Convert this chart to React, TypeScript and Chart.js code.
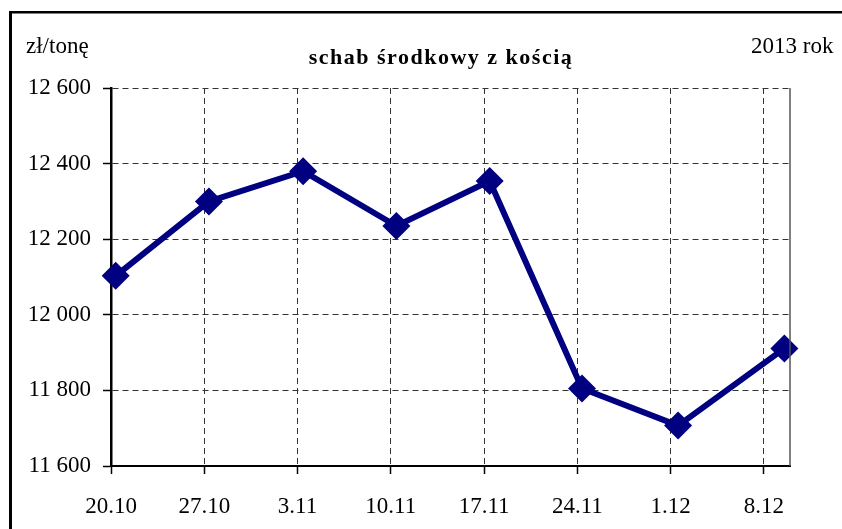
import React, { useEffect, useRef } from "react";
import { Chart, registerables } from "chart.js";

Chart.register(...registerables);

const categories: string[] = ["20.10", "27.10", "3.11", "10.11", "17.11", "24.11", "1.12", "8.12"];
// position of each observation, in weeks counted from 20.10
const weekPositions: number[] = [0.05, 1.05, 2.06, 3.06, 4.06, 5.05, 6.08, 7.22];
const prices: number[] = [12103, 12300, 12380, 12235, 12354, 11805, 11707, 11911];
const yMin = 11600;
const yMax = 12600;
const yStep = 200;
const xMax = 7.28;

const titleText = "schab środkowy z kością";
const unitText = "zł/tonę";
const yearText = "2013 rok";

const FONT = "'Liberation Serif', 'Times New Roman', serif";

const fmt = (v: number) => String(v).replace(/\B(?=(\d{3})+(?!\d))/g, " ");

const decorPlugin = {
  id: "decor",
  afterDraw(chart: any) {
    const ctx = chart.ctx as CanvasRenderingContext2D;
    const area = chart.chartArea;
    ctx.save();
    // outer frame (left and top)
    ctx.fillStyle = "#000";
    ctx.fillRect(9, 11, 842, 2.5);
    ctx.fillRect(9, 11, 3, 529);
    // right edge of plot area
    ctx.strokeStyle = "#555";
    ctx.lineWidth = 1.5;
    ctx.beginPath();
    ctx.moveTo(area.right, area.top);
    ctx.lineTo(area.right, area.bottom);
    ctx.stroke();
    // texts
    ctx.fillStyle = "#000";
    ctx.textBaseline = "alphabetic";
    ctx.font = `23px ${FONT}`;
    ctx.textAlign = "left";
    ctx.fillText(unitText, 26, 53);
    ctx.fillText(yearText, 751, 53);
    ctx.font = `bold 22px ${FONT}`;
    (ctx as any).letterSpacing = "1.5px";
    ctx.textAlign = "center";
    ctx.fillText(titleText, 441, 64);
    ctx.restore();
  },
};

export default function App() {
  const ref = useRef<HTMLCanvasElement | null>(null);

  useEffect(() => {
    if (!ref.current) return;
    const chart = new Chart(ref.current, {
      type: "line",
      data: {
        datasets: [
          {
            data: weekPositions.map((x, i) => ({ x, y: prices[i] })),
            borderColor: "#000080",
            backgroundColor: "#000080",
            borderWidth: 6,
            pointStyle: "rectRot",
            pointRadius: 14,
            pointBorderWidth: 0,
            pointBackgroundColor: "#000080",
            clip: false as any,
            tension: 0,
          },
        ],
      },
      options: {
        responsive: false,
        animation: false,
        layout: { padding: { top: 88, right: 52, left: 0, bottom: 0 } },
        plugins: {
          legend: { display: false },
          tooltip: { enabled: false },
          title: { display: false },
        },
        scales: {
          x: {
            type: "linear",
            min: 0,
            max: xMax,
            afterBuildTicks: (scale: any) => {
              scale.ticks = categories.map((_, i) => ({ value: i }));
            },
            afterFit: (scale: any) => {
              scale.height = 63;
            },
            ticks: {
              autoSkip: false,
              maxRotation: 0,
              padding: 19,
              color: "#000",
              font: { family: FONT, size: 23 },
              callback: (v: any) => categories[Number(v)] ?? "",
            },
            grid: {
              color: "#333",
              lineWidth: 1,
              tickLength: 8,
              tickColor: "#000",
              tickWidth: 1.5,
            },
            border: { color: "#000", width: 2, dash: [6, 4] },
          },
          y: {
            min: yMin,
            max: yMax,
            afterFit: (scale: any) => {
              scale.width = 111;
            },
            ticks: {
              stepSize: yStep,
              padding: 12,
              color: "#000",
              font: { family: FONT, size: 23 },
              callback: (v: any) => fmt(Number(v)),
            },
            grid: {
              color: "#333",
              lineWidth: 1,
              tickLength: 8,
              tickColor: "#000",
              tickWidth: 1.5,
            },
            border: { color: "#000", width: 2.5, dash: [6, 4] },
          },
        },
      },
      plugins: [decorPlugin],
    });
    return () => chart.destroy();
  }, []);

  return (
    <div style={{ position: "absolute", left: 0, top: 0, width: 842, height: 529, background: "#fff" }}>
      <canvas ref={ref} width={842} height={529} style={{ display: "block" }} />
    </div>
  );
}
